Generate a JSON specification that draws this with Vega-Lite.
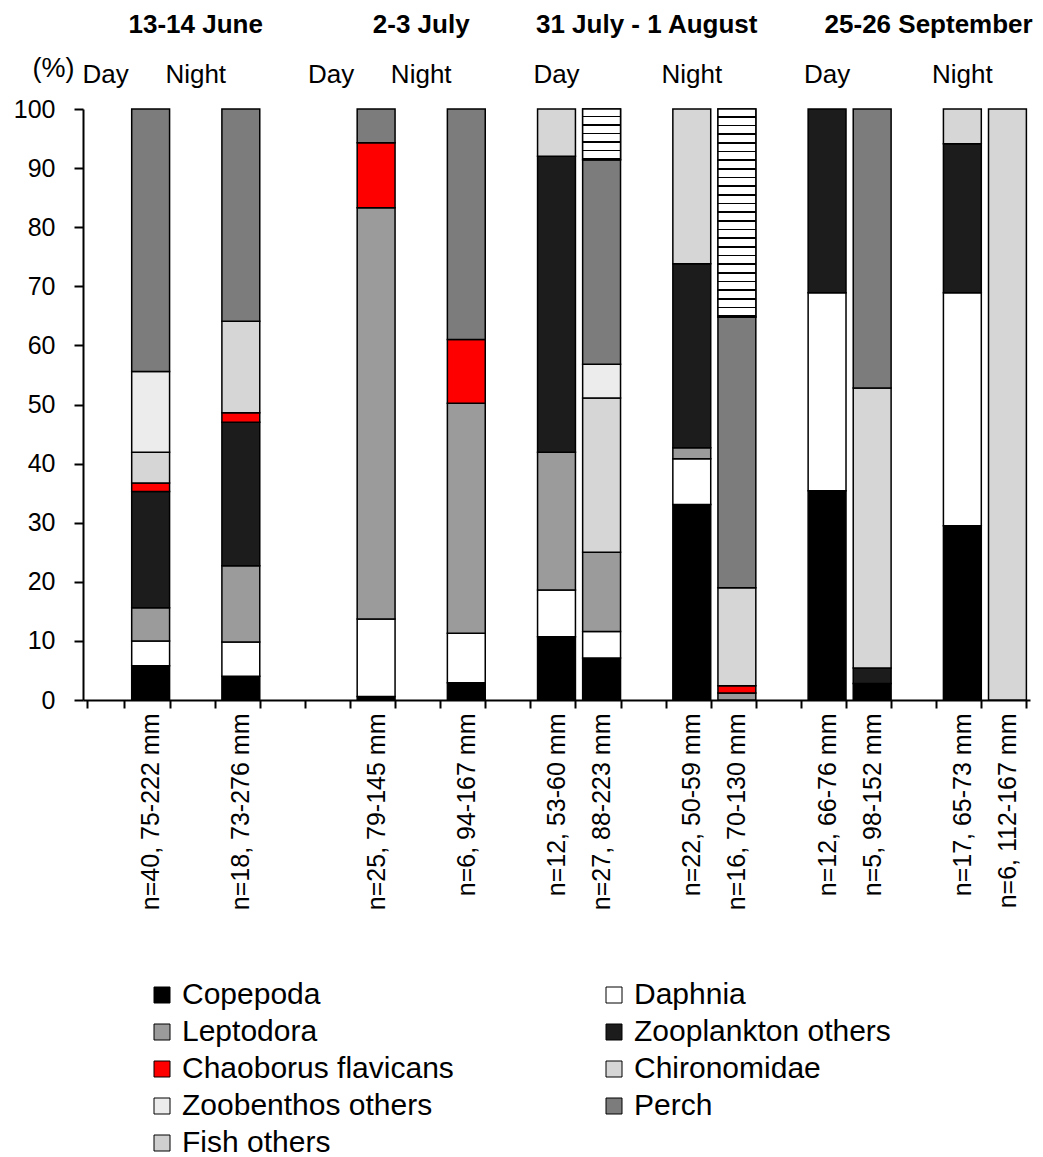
{
  "$schema": "https://vega.github.io/schema/vega-lite/v6.json",
  "width": 947,
  "height": 591,
  "autosize": {"type": "none"},
  "padding": {"left": 83, "top": 109, "right": 13, "bottom": 457},
  "background": "white",
  "config": {"font": "Liberation Sans", "view": {"stroke": null}},
  "datasets": {
    "bars": [
      {"s": "n=40, 75-222 mm", "c": "Copepoda", "v": 5.8},
      {"s": "n=40, 75-222 mm", "c": "Daphnia", "v": 4.2},
      {"s": "n=40, 75-222 mm", "c": "Leptodora", "v": 5.6},
      {"s": "n=40, 75-222 mm", "c": "Zooplankton others", "v": 19.7},
      {"s": "n=40, 75-222 mm", "c": "Chaoborus flavicans", "v": 1.4},
      {"s": "n=40, 75-222 mm", "c": "Chironomidae", "v": 5.2},
      {"s": "n=40, 75-222 mm", "c": "Zoobenthos others", "v": 13.7},
      {"s": "n=40, 75-222 mm", "c": "Perch", "v": 44.4},
      {"s": "n=18, 73-276 mm", "c": "Copepoda", "v": 4.0},
      {"s": "n=18, 73-276 mm", "c": "Daphnia", "v": 5.8},
      {"s": "n=18, 73-276 mm", "c": "Leptodora", "v": 12.9},
      {"s": "n=18, 73-276 mm", "c": "Zooplankton others", "v": 24.3},
      {"s": "n=18, 73-276 mm", "c": "Chaoborus flavicans", "v": 1.6},
      {"s": "n=18, 73-276 mm", "c": "Chironomidae", "v": 15.5},
      {"s": "n=18, 73-276 mm", "c": "Perch", "v": 35.9},
      {"s": "n=25, 79-145 mm", "c": "Copepoda", "v": 0.6},
      {"s": "n=25, 79-145 mm", "c": "Daphnia", "v": 13.1},
      {"s": "n=25, 79-145 mm", "c": "Leptodora", "v": 69.6},
      {"s": "n=25, 79-145 mm", "c": "Chaoborus flavicans", "v": 11.0},
      {"s": "n=25, 79-145 mm", "c": "Perch", "v": 5.7},
      {"s": "n=6, 94-167 mm", "c": "Copepoda", "v": 2.9},
      {"s": "n=6, 94-167 mm", "c": "Daphnia", "v": 8.4},
      {"s": "n=6, 94-167 mm", "c": "Leptodora", "v": 38.9},
      {"s": "n=6, 94-167 mm", "c": "Chaoborus flavicans", "v": 10.8},
      {"s": "n=6, 94-167 mm", "c": "Perch", "v": 39.0},
      {"s": "n=12, 53-60 mm", "c": "Copepoda", "v": 10.7},
      {"s": "n=12, 53-60 mm", "c": "Daphnia", "v": 7.9},
      {"s": "n=12, 53-60 mm", "c": "Leptodora", "v": 23.3},
      {"s": "n=12, 53-60 mm", "c": "Zooplankton others", "v": 50.1},
      {"s": "n=12, 53-60 mm", "c": "Chironomidae", "v": 8.0},
      {"s": "n=27, 88-223 mm", "c": "Copepoda", "v": 7.1},
      {"s": "n=27, 88-223 mm", "c": "Daphnia", "v": 4.5},
      {"s": "n=27, 88-223 mm", "c": "Leptodora", "v": 13.4},
      {"s": "n=27, 88-223 mm", "c": "Chironomidae", "v": 26.1},
      {"s": "n=27, 88-223 mm", "c": "Zoobenthos others", "v": 5.7},
      {"s": "n=27, 88-223 mm", "c": "Perch", "v": 34.6},
      {"s": "n=27, 88-223 mm", "c": "Fish others", "v": 8.6},
      {"s": "n=22, 50-59 mm", "c": "Copepoda", "v": 33.1},
      {"s": "n=22, 50-59 mm", "c": "Daphnia", "v": 7.7},
      {"s": "n=22, 50-59 mm", "c": "Leptodora", "v": 1.9},
      {"s": "n=22, 50-59 mm", "c": "Zooplankton others", "v": 31.1},
      {"s": "n=22, 50-59 mm", "c": "Chironomidae", "v": 26.2},
      {"s": "n=16, 70-130 mm", "c": "Leptodora", "v": 1.2},
      {"s": "n=16, 70-130 mm", "c": "Chaoborus flavicans", "v": 1.2},
      {"s": "n=16, 70-130 mm", "c": "Chironomidae", "v": 16.6},
      {"s": "n=16, 70-130 mm", "c": "Perch", "v": 45.8},
      {"s": "n=16, 70-130 mm", "c": "Fish others", "v": 35.2},
      {"s": "n=12, 66-76 mm", "c": "Copepoda", "v": 35.4},
      {"s": "n=12, 66-76 mm", "c": "Daphnia", "v": 33.5},
      {"s": "n=12, 66-76 mm", "c": "Zooplankton others", "v": 31.1},
      {"s": "n=5, 98-152 mm", "c": "Copepoda", "v": 2.8},
      {"s": "n=5, 98-152 mm", "c": "Zooplankton others", "v": 2.6},
      {"s": "n=5, 98-152 mm", "c": "Chironomidae", "v": 47.4},
      {"s": "n=5, 98-152 mm", "c": "Perch", "v": 47.2},
      {"s": "n=17, 65-73 mm", "c": "Copepoda", "v": 29.5},
      {"s": "n=17, 65-73 mm", "c": "Daphnia", "v": 39.4},
      {"s": "n=17, 65-73 mm", "c": "Zooplankton others", "v": 25.2},
      {"s": "n=17, 65-73 mm", "c": "Chironomidae", "v": 5.9},
      {"s": "n=6, 112-167 mm", "c": "Chironomidae", "v": 100}
    ],
    "dn": [
      {"s": "gap0", "t": "Day"},
      {"s": "gap2", "t": "Night"},
      {"s": "gap5", "t": "Day"},
      {"s": "gap7", "t": "Night"},
      {"s": "n=12, 53-60 mm", "t": "Day"},
      {"s": "n=22, 50-59 mm", "t": "Night"},
      {"s": "n=12, 66-76 mm", "t": "Day"},
      {"s": "n=17, 65-73 mm", "t": "Night"}
    ],
    "heads": [
      {"s": "gap2", "t": "13-14 June"},
      {"s": "gap7", "t": "2-3 July"},
      {"s": "gap12", "t": "31 July - 1 August"}
    ],
    "heads2": [
      {"s": "gap18", "t": "25-26 September"}
    ]
  },
  "layer": [
    {
      "data": {"name": "bars"},
      "transform": [
        {"calculate": "indexof(['Copepoda', 'Daphnia', 'Leptodora', 'Zooplankton others', 'Chaoborus flavicans', 'Chironomidae', 'Zoobenthos others', 'Perch', 'Fish others'], datum.c)", "as": "k"},
        {"stack": "v", "groupby": ["s"], "sort": [{"field": "k", "order": "ascending"}], "as": ["v0", "v1"]}
      ],
      "mark": {"type": "bar", "stroke": "black", "strokeWidth": 1.5},
      "encoding": {
        "x": {
          "field": "s",
          "type": "nominal",
          "scale": {
            "domain": ["gap0", "n=40, 75-222 mm", "gap2", "n=18, 73-276 mm", "gap4", "gap5", "n=25, 79-145 mm", "gap7", "n=6, 94-167 mm", "gap9", "n=12, 53-60 mm", "n=27, 88-223 mm", "gap12", "n=22, 50-59 mm", "n=16, 70-130 mm", "gap15", "n=12, 66-76 mm", "n=5, 98-152 mm", "gap18", "n=17, 65-73 mm", "n=6, 112-167 mm"],
            "paddingInner": 0.16,
            "paddingOuter": 0.08
          },
          "axis": {
            "title": null,
            "labelAngle": -90,
            "labelFontSize": 25,
            "labelColor": "black",
            "labelExpr": "test(/^gap/, '' + datum.value) ? '' : datum.label",
            "labelOverlap": false,
            "labelLimit": 400,
            "labelPadding": 5,
            "tickBand": "extent",
            "tickSize": 8,
            "tickWidth": 2,
            "tickColor": "black",
            "domainColor": "black",
            "domainWidth": 2
          }
        },
        "y": {
          "field": "v0",
          "type": "quantitative",
          "scale": {"domain": [0, 100], "nice": false},
          "axis": {
            "title": "(%)",
            "titleAngle": 0,
            "titleX": -30,
            "titleY": -41,
            "titleAlign": "center",
            "titleBaseline": "middle",
            "titleFontSize": 27,
            "titleFontWeight": "normal",
            "titleColor": "black",
            "values": [0, 10, 20, 30, 40, 50, 60, 70, 80, 90, 100],
            "labelFontSize": 25,
            "labelColor": "black",
            "labelPadding": 19,
            "tickSize": 9,
            "tickWidth": 2,
            "tickColor": "black",
            "domainColor": "black",
            "domainWidth": 2,
            "grid": false
          }
        },
        "y2": {"field": "v1"},
        "color": {
          "field": "c",
          "type": "nominal",
          "scale": {
            "domain": ["Copepoda", "Daphnia", "Leptodora", "Zooplankton others", "Chaoborus flavicans", "Chironomidae", "Zoobenthos others", "Perch", "Fish others"],
            "range": ["#000000", "#ffffff", "#9b9b9b", "#1c1c1c", "#ff0000", "#d6d6d6", "#ececec", "#7c7c7c", "#cfcfcf"]
          },
          "legend": {
            "orient": "none",
            "legendX": 64,
            "legendY": 871,
            "direction": "horizontal",
            "columns": 2,
            "title": null,
            "symbolType": "square",
            "symbolSize": 256,
            "symbolStrokeColor": "black",
            "symbolStrokeWidth": 1,
            "labelFontSize": 30,
            "labelColor": "black",
            "labelLimit": 500,
            "labelOffset": 5,
            "rowPadding": 7,
            "columnPadding": 145
          }
        }
      }
    },
    {
      "data": {"name": "bars"},
      "transform": [
        {"calculate": "indexof(['Copepoda', 'Daphnia', 'Leptodora', 'Zooplankton others', 'Chaoborus flavicans', 'Chironomidae', 'Zoobenthos others', 'Perch', 'Fish others'], datum.c)", "as": "k"},
        {"stack": "v", "groupby": ["s"], "sort": [{"field": "k", "order": "ascending"}], "as": ["v0", "v1"]},
        {"filter": "datum.c == 'Fish others' && datum.s == 'n=16, 70-130 mm'"}
      ],
      "mark": {
        "type": "bar",
        "stroke": "black",
        "strokeWidth": 1.5,
        "fill": {"gradient": "linear", "x1": 0, "y1": 0, "x2": 0, "y2": 1, "stops": [
          {"offset": 0, "color": "#ffffff"}, {"offset": 0.03333, "color": "#ffffff"}, {"offset": 0.03333, "color": "#000000"}, {"offset": 0.04167, "color": "#000000"},
          {"offset": 0.04167, "color": "#ffffff"}, {"offset": 0.075, "color": "#ffffff"}, {"offset": 0.075, "color": "#000000"}, {"offset": 0.08333, "color": "#000000"},
          {"offset": 0.08333, "color": "#ffffff"}, {"offset": 0.11667, "color": "#ffffff"}, {"offset": 0.11667, "color": "#000000"}, {"offset": 0.125, "color": "#000000"},
          {"offset": 0.125, "color": "#ffffff"}, {"offset": 0.15833, "color": "#ffffff"}, {"offset": 0.15833, "color": "#000000"}, {"offset": 0.16667, "color": "#000000"},
          {"offset": 0.16667, "color": "#ffffff"}, {"offset": 0.2, "color": "#ffffff"}, {"offset": 0.2, "color": "#000000"}, {"offset": 0.20833, "color": "#000000"},
          {"offset": 0.20833, "color": "#ffffff"}, {"offset": 0.24167, "color": "#ffffff"}, {"offset": 0.24167, "color": "#000000"}, {"offset": 0.25, "color": "#000000"},
          {"offset": 0.25, "color": "#ffffff"}, {"offset": 0.28333, "color": "#ffffff"}, {"offset": 0.28333, "color": "#000000"}, {"offset": 0.29167, "color": "#000000"},
          {"offset": 0.29167, "color": "#ffffff"}, {"offset": 0.325, "color": "#ffffff"}, {"offset": 0.325, "color": "#000000"}, {"offset": 0.33333, "color": "#000000"},
          {"offset": 0.33333, "color": "#ffffff"}, {"offset": 0.36667, "color": "#ffffff"}, {"offset": 0.36667, "color": "#000000"}, {"offset": 0.375, "color": "#000000"},
          {"offset": 0.375, "color": "#ffffff"}, {"offset": 0.40833, "color": "#ffffff"}, {"offset": 0.40833, "color": "#000000"}, {"offset": 0.41667, "color": "#000000"},
          {"offset": 0.41667, "color": "#ffffff"}, {"offset": 0.45, "color": "#ffffff"}, {"offset": 0.45, "color": "#000000"}, {"offset": 0.45833, "color": "#000000"},
          {"offset": 0.45833, "color": "#ffffff"}, {"offset": 0.49167, "color": "#ffffff"}, {"offset": 0.49167, "color": "#000000"}, {"offset": 0.5, "color": "#000000"},
          {"offset": 0.5, "color": "#ffffff"}, {"offset": 0.53333, "color": "#ffffff"}, {"offset": 0.53333, "color": "#000000"}, {"offset": 0.54167, "color": "#000000"},
          {"offset": 0.54167, "color": "#ffffff"}, {"offset": 0.575, "color": "#ffffff"}, {"offset": 0.575, "color": "#000000"}, {"offset": 0.58333, "color": "#000000"},
          {"offset": 0.58333, "color": "#ffffff"}, {"offset": 0.61667, "color": "#ffffff"}, {"offset": 0.61667, "color": "#000000"}, {"offset": 0.625, "color": "#000000"},
          {"offset": 0.625, "color": "#ffffff"}, {"offset": 0.65833, "color": "#ffffff"}, {"offset": 0.65833, "color": "#000000"}, {"offset": 0.66667, "color": "#000000"},
          {"offset": 0.66667, "color": "#ffffff"}, {"offset": 0.7, "color": "#ffffff"}, {"offset": 0.7, "color": "#000000"}, {"offset": 0.70833, "color": "#000000"},
          {"offset": 0.70833, "color": "#ffffff"}, {"offset": 0.74167, "color": "#ffffff"}, {"offset": 0.74167, "color": "#000000"}, {"offset": 0.75, "color": "#000000"},
          {"offset": 0.75, "color": "#ffffff"}, {"offset": 0.78333, "color": "#ffffff"}, {"offset": 0.78333, "color": "#000000"}, {"offset": 0.79167, "color": "#000000"},
          {"offset": 0.79167, "color": "#ffffff"}, {"offset": 0.825, "color": "#ffffff"}, {"offset": 0.825, "color": "#000000"}, {"offset": 0.83333, "color": "#000000"},
          {"offset": 0.83333, "color": "#ffffff"}, {"offset": 0.86667, "color": "#ffffff"}, {"offset": 0.86667, "color": "#000000"}, {"offset": 0.875, "color": "#000000"},
          {"offset": 0.875, "color": "#ffffff"}, {"offset": 0.90833, "color": "#ffffff"}, {"offset": 0.90833, "color": "#000000"}, {"offset": 0.91667, "color": "#000000"},
          {"offset": 0.91667, "color": "#ffffff"}, {"offset": 0.95, "color": "#ffffff"}, {"offset": 0.95, "color": "#000000"}, {"offset": 0.95833, "color": "#000000"},
          {"offset": 0.95833, "color": "#ffffff"}, {"offset": 0.99167, "color": "#ffffff"}, {"offset": 0.99167, "color": "#000000"}, {"offset": 1, "color": "#000000"}
        ]}
      },
      "encoding": {
        "x": {"field": "s", "type": "nominal"},
        "y": {"field": "v0", "type": "quantitative"},
        "y2": {"field": "v1"}
      }
    },
    {
      "data": {"name": "bars"},
      "transform": [
        {"calculate": "indexof(['Copepoda', 'Daphnia', 'Leptodora', 'Zooplankton others', 'Chaoborus flavicans', 'Chironomidae', 'Zoobenthos others', 'Perch', 'Fish others'], datum.c)", "as": "k"},
        {"stack": "v", "groupby": ["s"], "sort": [{"field": "k", "order": "ascending"}], "as": ["v0", "v1"]},
        {"filter": "datum.c == 'Fish others' && datum.s == 'n=27, 88-223 mm'"}
      ],
      "mark": {
        "type": "bar",
        "stroke": "black",
        "strokeWidth": 1.5,
        "fill": {"gradient": "linear", "x1": 0, "y1": 0, "x2": 0, "y2": 1, "stops": [
          {"offset": 0, "color": "#ffffff"}, {"offset": 0.13333, "color": "#ffffff"}, {"offset": 0.13333, "color": "#000000"}, {"offset": 0.16667, "color": "#000000"},
          {"offset": 0.16667, "color": "#ffffff"}, {"offset": 0.3, "color": "#ffffff"}, {"offset": 0.3, "color": "#000000"}, {"offset": 0.33333, "color": "#000000"},
          {"offset": 0.33333, "color": "#ffffff"}, {"offset": 0.46667, "color": "#ffffff"}, {"offset": 0.46667, "color": "#000000"}, {"offset": 0.5, "color": "#000000"},
          {"offset": 0.5, "color": "#ffffff"}, {"offset": 0.63333, "color": "#ffffff"}, {"offset": 0.63333, "color": "#000000"}, {"offset": 0.66667, "color": "#000000"},
          {"offset": 0.66667, "color": "#ffffff"}, {"offset": 0.8, "color": "#ffffff"}, {"offset": 0.8, "color": "#000000"}, {"offset": 0.83333, "color": "#000000"},
          {"offset": 0.83333, "color": "#ffffff"}, {"offset": 0.96667, "color": "#ffffff"}, {"offset": 0.96667, "color": "#000000"}, {"offset": 1, "color": "#000000"}
        ]}
      },
      "encoding": {
        "x": {"field": "s", "type": "nominal"},
        "y": {"field": "v0", "type": "quantitative"},
        "y2": {"field": "v1"}
      }
    },
    {
      "data": {"name": "dn"},
      "mark": {"type": "text", "fontSize": 26, "baseline": "alphabetic", "align": "center", "color": "black"},
      "encoding": {
        "x": {"field": "s", "type": "nominal"},
        "y": {"datum": 104.4, "type": "quantitative"},
        "text": {"field": "t"}
      }
    },
    {
      "data": {"name": "heads"},
      "mark": {"type": "text", "fontSize": 26, "fontWeight": "bold", "baseline": "alphabetic", "align": "center", "color": "black"},
      "encoding": {
        "x": {"field": "s", "type": "nominal"},
        "y": {"datum": 112.9, "type": "quantitative"},
        "text": {"field": "t"}
      }
    },
    {
      "data": {"name": "heads2"},
      "mark": {"type": "text", "fontSize": 26, "fontWeight": "bold", "baseline": "alphabetic", "align": "center", "color": "black"},
      "encoding": {
        "x": {"field": "s", "type": "nominal", "bandPosition": 0.8},
        "y": {"datum": 112.9, "type": "quantitative"},
        "text": {"field": "t"}
      }
    }
  ]
}
